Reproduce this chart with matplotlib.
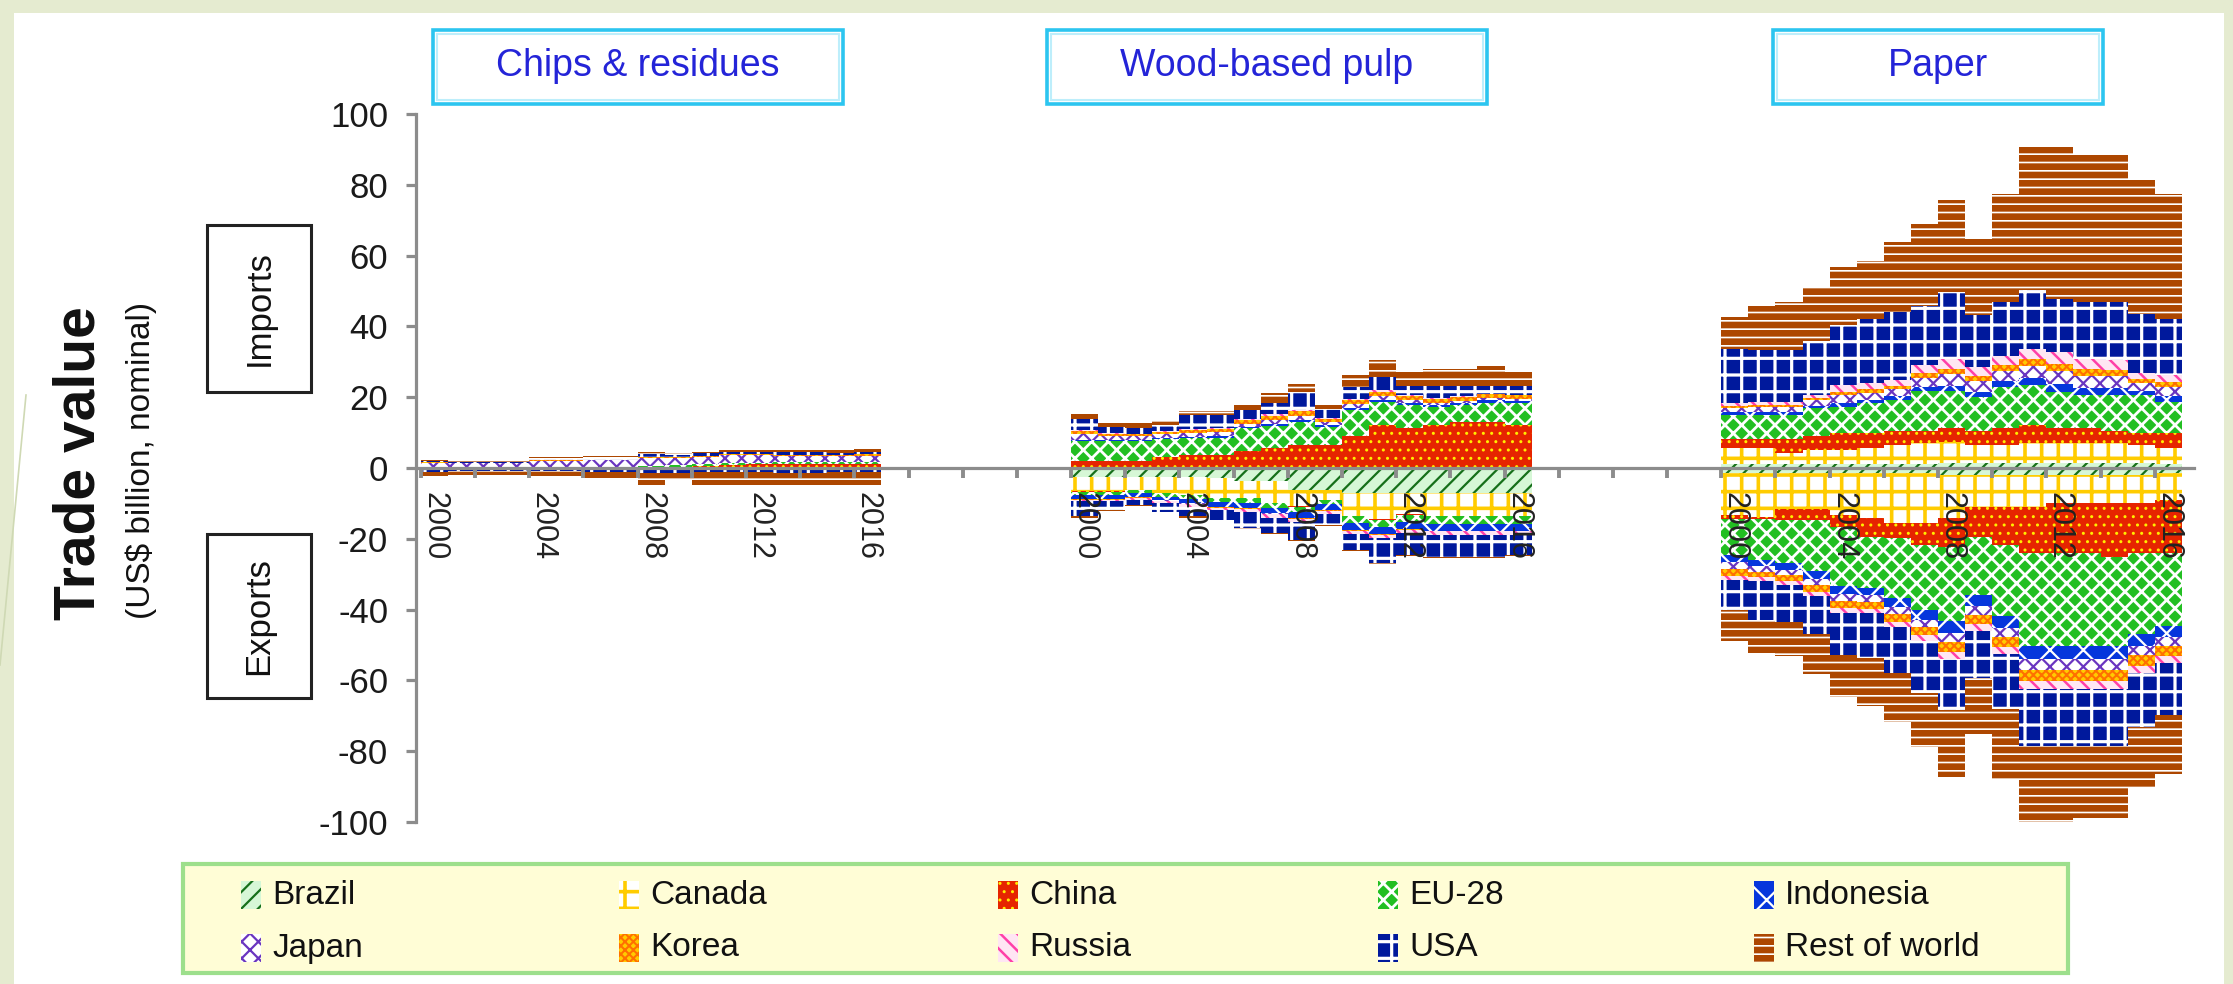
import numpy as np
import matplotlib
matplotlib.use("Agg")
import matplotlib.pyplot as plt
from matplotlib.patches import Rectangle
from matplotlib.lines import Line2D

plt.rcParams['font.family'] = ['Liberation Sans', 'DejaVu Sans']
plt.rcParams['axes.unicode_minus'] = False
plt.rcParams['hatch.linewidth'] = 2.0

years = list(range(2000, 2017))
countries = ["Brazil", "Canada", "China", "EU-28", "Indonesia",
             "Japan", "Korea", "Russia", "USA", "Rest of world"]
products = ["Chips & residues", "Wood-based pulp", "Paper"]

# ---- chips & residues (US$ billion) ----
chips_imp_brazil = [0, 0, 0, 0, 0, 0, 0, 0, 0, 0, 0, 0, 0, 0, 0, 0, 0]
chips_imp_canada = [0.1, 0.1, 0.1, 0.1, 0.1, 0.1, 0.1, 0.1, 0.1, 0.1, 0.1, 0.1, 0.1, 0.1, 0.1, 0.1, 0.1]
chips_imp_china = [0, 0, 0, 0, 0, 0, 0, 0, 0.2, 0.3, 0.5, 0.8, 0.9, 1.0, 1.0, 1.0, 1.1]
chips_imp_eu = [0.1, 0.1, 0.1, 0.1, 0.2, 0.2, 0.3, 0.3, 0.4, 0.4, 0.5, 0.5, 0.5, 0.5, 0.5, 0.5, 0.5]
chips_imp_indonesia = [0, 0, 0, 0, 0, 0, 0, 0, 0, 0, 0, 0, 0, 0, 0, 0, 0]
chips_imp_japan = [1.2, 1.2, 1.2, 1.2, 1.8, 1.8, 1.8, 1.8, 2.2, 2.0, 2.0, 2.2, 2.1, 1.9, 1.9, 1.8, 1.8]
chips_imp_korea = [0.3, 0.1, 0.1, 0.1, 0.1, 0.1, 0.1, 0.1, 0.3, 0.3, 0.4, 0.3, 0.3, 0.3, 0.3, 0.3, 0.5]
chips_imp_russia = [0, 0, 0, 0, 0, 0, 0, 0, 0, 0, 0, 0, 0, 0, 0, 0, 0]
chips_imp_usa = [0.2, 0.2, 0.2, 0.2, 0.7, 0.7, 0.7, 0.7, 0.8, 0.7, 0.6, 0.7, 0.6, 0.6, 0.6, 0.6, 0.6]
chips_imp_rest = [0.4, 0.4, 0.4, 0.4, 0.3, 0.3, 0.3, 0.3, 0.6, 0.4, 0.4, 0.5, 0.6, 0.6, 0.6, 0.7, 0.8]

chips_exp_brazil = [0, 0, 0, 0, 0.1, 0.2, 0.3, 0.3, 0.3, 0.3, 0.3, 0.3, 0.3, 0.3, 0.3, 0.3, 0.3]
chips_exp_canada = [0.1, 0.1, 0.1, 0.1, 0.1, 0.1, 0.1, 0.1, 0.1, 0.1, 0.1, 0.1, 0.1, 0.1, 0.1, 0.1, 0.1]
chips_exp_china = [0, 0, 0, 0, 0, 0, 0, 0, 0, 0, 0, 0, 0, 0, 0, 0, 0]
chips_exp_eu = [0.1, 0.1, 0.1, 0.1, 0.1, 0.1, 0.1, 0.1, 0.1, 0.1, 0.1, 0.1, 0.1, 0.1, 0.1, 0.1, 0.1]
chips_exp_indonesia = [0, 0, 0, 0, 0, 0, 0, 0, 0, 0, 0, 0, 0, 0, 0, 0, 0]
chips_exp_japan = [0, 0, 0, 0, 0, 0, 0, 0, 0, 0, 0, 0, 0, 0, 0, 0, 0]
chips_exp_korea = [0, 0, 0, 0, 0, 0, 0, 0, 0, 0, 0, 0, 0, 0, 0, 0, 0]
chips_exp_russia = [0.3, 0.3, 0.3, 0.3, 0.2, 0.2, 0.2, 0.2, 0.2, 0.2, 0.2, 0.2, 0.2, 0.2, 0.2, 0.2, 0.2]
chips_exp_usa = [0.5, 0.3, 0.3, 0.3, 0.3, 0.3, 0.3, 0.3, 0.8, 0.6, 0.5, 0.5, 0.5, 0.6, 0.6, 0.5, 0.5]
chips_exp_rest = [1.2, 1.3, 1.3, 1.3, 1.5, 1.5, 1.8, 1.8, 3.3, 2.0, 3.6, 3.7, 3.7, 3.6, 3.6, 3.7, 3.7]

# ---- wood-based pulp ----
pulp_imp_brazil = [0.1, 0.1, 0.1, 0.1, 0.1, 0.1, 0.1, 0.1, 0.1, 0.1, 0.1, 0.1, 0.1, 0.1, 0.1, 0.1, 0.1]
pulp_imp_canada = [0.3, 0.3, 0.3, 0.3, 0.3, 0.3, 0.3, 0.3, 0.3, 0.3, 0.3, 0.3, 0.3, 0.3, 0.3, 0.3, 0.3]
pulp_imp_china = [1.6, 1.6, 1.6, 2.6, 3.3, 3.3, 4.3, 5.2, 6.0, 6.0, 8.5, 11.8, 11.0, 11.8, 12.5, 12.7, 11.8]
pulp_imp_eu = [5.5, 5.5, 5.5, 5.2, 4.7, 4.9, 6.5, 6.4, 6.7, 5.3, 7.5, 6.5, 6.4, 5.1, 4.9, 5.4, 6.1]
pulp_imp_indonesia = [0.3, 0.3, 0.3, 0.3, 0.4, 0.4, 0.4, 0.4, 0.5, 0.4, 0.5, 0.6, 0.6, 0.6, 0.6, 0.6, 0.6]
pulp_imp_japan = [1.9, 1.2, 1.1, 1.1, 1.2, 1.2, 0.9, 1.2, 1.2, 0.9, 1.2, 1.1, 0.7, 0.6, 0.6, 0.6, 0.6]
pulp_imp_korea = [0.8, 0.7, 0.7, 0.7, 0.8, 0.9, 1.0, 1.2, 1.2, 0.8, 1.1, 1.2, 1.2, 1.1, 1.1, 1.1, 1.0]
pulp_imp_russia = [0.1, 0.1, 0.1, 0.1, 0.2, 0.2, 0.3, 0.4, 0.5, 0.3, 0.4, 0.4, 0.3, 0.2, 0.2, 0.2, 0.2]
pulp_imp_usa = [3.3, 1.9, 1.5, 1.8, 4.0, 3.7, 2.6, 3.1, 5.0, 2.6, 3.2, 3.6, 2.6, 3.4, 2.9, 2.2, 2.5]
pulp_imp_rest = [1.4, 1.0, 1.5, 1.5, 1.2, 1.2, 1.4, 2.9, 2.2, 1.1, 3.4, 4.9, 4.0, 4.7, 4.7, 5.6, 4.0]

pulp_exp_brazil = [2.6, 2.6, 2.6, 2.6, 2.6, 2.8, 3.7, 3.7, 6.1, 6.1, 7.0, 7.0, 7.0, 7.0, 7.0, 7.0, 7.0]
pulp_exp_canada = [4.0, 4.0, 3.5, 4.4, 4.9, 5.6, 4.7, 6.1, 4.7, 2.8, 6.6, 7.5, 6.1, 6.6, 6.6, 6.6, 6.6]
pulp_exp_china = [0.1, 0.1, 0.1, 0.1, 0.1, 0.1, 0.1, 0.1, 0.1, 0.1, 0.1, 0.1, 0.1, 0.1, 0.1, 0.1, 0.1]
pulp_exp_eu = [1.0, 1.0, 1.0, 1.0, 1.2, 1.2, 1.3, 1.4, 1.5, 1.3, 1.8, 2.0, 2.0, 2.0, 2.0, 2.0, 2.0]
pulp_exp_indonesia = [1.0, 1.0, 1.0, 1.0, 1.2, 1.3, 1.5, 1.5, 1.7, 1.6, 2.0, 2.0, 2.0, 2.0, 2.0, 2.0, 2.0]
pulp_exp_japan = [0.1, 0.1, 0.1, 0.1, 0.1, 0.1, 0.1, 0.1, 0.1, 0.1, 0.1, 0.1, 0.1, 0.1, 0.1, 0.1, 0.1]
pulp_exp_korea = [0.1, 0.1, 0.1, 0.1, 0.1, 0.1, 0.1, 0.1, 0.1, 0.1, 0.1, 0.1, 0.1, 0.1, 0.1, 0.1, 0.1]
pulp_exp_russia = [0.5, 0.5, 0.5, 0.6, 0.7, 0.8, 0.9, 1.0, 1.0, 0.8, 1.0, 1.1, 1.0, 1.0, 1.0, 1.0, 1.0]
pulp_exp_usa = [4.3, 2.5, 1.6, 2.4, 2.8, 2.7, 4.6, 4.4, 5.0, 3.2, 4.4, 7.0, 6.1, 6.1, 6.1, 6.1, 5.6]
pulp_exp_rest = [0.3, 0.3, 0.3, 0.3, 0.3, 0.3, 0.3, 0.3, 0.3, 0.3, 0.3, 0.3, 0.3, 0.3, 0.3, 0.3, 0.3]

# ---- paper ----
paper_imp_brazil = [1.0, 1.0, 1.0, 1.0, 1.0, 1.0, 1.0, 1.0, 1.5, 1.5, 1.5, 1.5, 1.5, 1.5, 1.5, 1.5, 1.0]
paper_imp_canada = [4.6, 4.6, 3.2, 4.0, 4.0, 4.6, 5.6, 6.0, 5.9, 5.1, 5.1, 5.5, 5.5, 5.5, 5.5, 5.1, 4.6]
paper_imp_china = [2.5, 2.5, 3.9, 3.9, 4.8, 4.2, 3.9, 3.5, 4.0, 3.9, 4.8, 5.2, 4.4, 4.4, 3.5, 3.2, 4.2]
paper_imp_eu = [6.9, 6.9, 6.9, 8.0, 7.5, 8.5, 8.7, 11.2, 10.3, 9.6, 11.5, 11.2, 10.1, 9.2, 10.1, 10.8, 8.9]
paper_imp_indonesia = [0.7, 0.7, 0.7, 0.7, 1.0, 1.0, 1.0, 1.3, 1.6, 1.5, 1.6, 2.0, 2.2, 2.0, 1.9, 1.2, 1.5]
paper_imp_japan = [1.3, 1.5, 1.5, 1.5, 2.2, 2.0, 2.0, 2.5, 3.2, 3.0, 3.0, 3.5, 3.8, 3.5, 3.4, 2.2, 2.6]
paper_imp_korea = [0.6, 0.7, 0.7, 0.7, 1.1, 1.0, 1.0, 1.3, 1.6, 1.5, 1.5, 1.8, 2.0, 1.8, 1.7, 1.1, 1.4]
paper_imp_russia = [0.7, 0.8, 0.8, 0.8, 1.8, 1.6, 1.6, 2.2, 2.8, 2.5, 2.6, 3.0, 3.3, 3.0, 2.8, 1.6, 2.0]
paper_imp_usa = [15.4, 14.5, 14.5, 15.4, 17.0, 18.2, 19.2, 16.9, 18.7, 14.5, 15.4, 16.7, 15.0, 15.9, 16.4, 16.8, 15.9]
paper_imp_rest = [8.9, 12.7, 13.6, 15.0, 16.5, 16.4, 19.9, 23.1, 26.1, 21.7, 30.4, 40.4, 43.0, 41.5, 41.5, 38.0, 35.3]

paper_exp_brazil = [1.5, 1.5, 1.5, 1.5, 1.5, 1.5, 1.5, 1.5, 2.0, 2.0, 2.0, 2.0, 2.0, 2.0, 2.0, 2.0, 1.5]
paper_exp_canada = [11.8, 12.3, 10.2, 10.2, 11.8, 12.7, 14.1, 14.1, 12.2, 9.0, 9.0, 9.0, 8.0, 8.0, 8.0, 8.0, 7.6]
paper_exp_china = [1.2, 0.7, 3.0, 3.0, 3.3, 5.2, 4.2, 6.1, 8.0, 8.4, 10.7, 13.1, 14.1, 14.1, 15.0, 14.1, 15.0]
paper_exp_eu = [10.0, 11.5, 12.2, 14.5, 16.8, 14.5, 16.9, 18.5, 21.1, 16.6, 20.2, 26.2, 26.2, 26.2, 25.3, 22.9, 20.4]
paper_exp_indonesia = [2.1, 1.8, 1.8, 2.1, 2.3, 2.1, 2.5, 2.6, 3.2, 3.0, 3.2, 3.7, 3.7, 3.7, 3.7, 3.2, 3.2]
paper_exp_japan = [2.0, 1.5, 1.5, 1.8, 1.9, 1.8, 2.0, 2.2, 2.7, 2.5, 2.7, 3.0, 3.0, 3.0, 3.0, 2.7, 2.6]
paper_exp_korea = [1.8, 1.6, 1.6, 1.8, 2.0, 1.9, 2.2, 2.3, 2.9, 2.7, 2.9, 3.3, 3.3, 3.3, 3.3, 2.9, 2.8]
paper_exp_russia = [1.2, 1.1, 1.2, 1.3, 1.3, 1.2, 1.5, 1.6, 1.9, 1.9, 1.9, 2.2, 2.2, 2.2, 2.2, 2.0, 1.9]
paper_exp_usa = [8.6, 10.8, 10.5, 10.8, 12.0, 12.7, 12.9, 14.8, 14.5, 13.1, 15.5, 15.9, 15.9, 15.9, 15.9, 15.4, 14.8]
paper_exp_rest = [8.7, 9.4, 9.6, 11.2, 11.9, 13.5, 14.0, 15.1, 18.8, 15.9, 20.1, 21.5, 21.5, 20.6, 20.6, 17.3, 16.5]

chips_imp = [chips_imp_brazil, chips_imp_canada, chips_imp_china, chips_imp_eu, chips_imp_indonesia,
             chips_imp_japan, chips_imp_korea, chips_imp_russia, chips_imp_usa, chips_imp_rest]
chips_exp = [chips_exp_brazil, chips_exp_canada, chips_exp_china, chips_exp_eu, chips_exp_indonesia,
             chips_exp_japan, chips_exp_korea, chips_exp_russia, chips_exp_usa, chips_exp_rest]
pulp_imp = [pulp_imp_brazil, pulp_imp_canada, pulp_imp_china, pulp_imp_eu, pulp_imp_indonesia,
            pulp_imp_japan, pulp_imp_korea, pulp_imp_russia, pulp_imp_usa, pulp_imp_rest]
pulp_exp = [pulp_exp_brazil, pulp_exp_canada, pulp_exp_china, pulp_exp_eu, pulp_exp_indonesia,
            pulp_exp_japan, pulp_exp_korea, pulp_exp_russia, pulp_exp_usa, pulp_exp_rest]
paper_imp = [paper_imp_brazil, paper_imp_canada, paper_imp_china, paper_imp_eu, paper_imp_indonesia,
             paper_imp_japan, paper_imp_korea, paper_imp_russia, paper_imp_usa, paper_imp_rest]
paper_exp = [paper_exp_brazil, paper_exp_canada, paper_exp_china, paper_exp_eu, paper_exp_indonesia,
             paper_exp_japan, paper_exp_korea, paper_exp_russia, paper_exp_usa, paper_exp_rest]

# facecolour, hatch colour, hatch, hatch line width per country
styles = [
    ('#d6f7d6', '#16701a', '//', 1.6),      # Brazil
    ('#ffffff', '#ffcc00', '+', 2.6),       # Canada
    ('#e62400', '#ffee00', '..', 1.0),      # China
    ('#22bf22', '#ffffff', 'xx', 2.0),      # EU-28
    ('#0636dc', '#ffffff', 'x', 1.6),       # Indonesia
    ('#ffffff', '#6a35c0', 'xx', 1.6),      # Japan
    ('#ffcc00', '#ff7000', 'xxxx', 1.5),    # Korea
    ('#ffe6f3', '#ff40a8', '\\\\', 1.8),    # Russia
    ('#00199c', '#ffffff', '+', 2.3),       # USA
    ('#ad4700', '#ffffff', '--', 1.2),      # Rest of world
]

W, H = 2233, 984


def fx(px):
    return px / W


def fy(py):
    return 1 - py / H


def set_hatch_lw(artist, lw):
    if hasattr(artist, 'set_hatch_linewidth'):
        artist.set_hatch_linewidth(lw)


fig = plt.figure(figsize=(W / 100, H / 100), dpi=100, facecolor='#e5ebd0')
# white slide area
fig.patches.append(Rectangle((fx(14), 0), fx(2224) - fx(14), fy(13), transform=fig.transFigure,
                             facecolor='white', edgecolor='none', zorder=-2))
fig.lines.append(Line2D([fx(0), fx(26)], [fy(665), fy(395)], transform=fig.transFigure,
                        color='#cfd9b4', lw=1.2, zorder=-1))

ax = fig.add_axes([fx(416), fy(822), (2194 - 416) / W, (822 - 114) / H])
ax.patch.set_alpha(0)

offsets = [0, 24, 48]
n = len(years)


def draw_stack(xpos, layers, sign):
    base = np.zeros(n)
    for vals, (fc, hc, hatch, hlw) in zip(layers, styles):
        v = sign * np.asarray(vals, dtype=float)
        with plt.rc_context({'hatch.linewidth': hlw}):
            bars = ax.bar(xpos, v, bottom=base, width=1.0, color=fc, edgecolor=hc, hatch=hatch,
                          linewidth=0, antialiased=False, zorder=1)
        for b in bars:
            set_hatch_lw(b, hlw)
        base = base + v


for off, imp, exp in zip(offsets, [chips_imp, pulp_imp, paper_imp], [chips_exp, pulp_exp, paper_exp]):
    xpos = np.arange(n) + off
    draw_stack(xpos, imp, 1)
    draw_stack(xpos, exp, -1)

ax.set_xlim(-0.68, 64.95)
ax.set_ylim(-100, 100)

axis_grey = '#8c8c8c'
for s in ['top', 'right']:
    ax.spines[s].set_visible(False)
ax.spines['left'].set_color(axis_grey)
ax.spines['left'].set_linewidth(2.3)
ax.spines['bottom'].set_position(('data', 0))
ax.spines['bottom'].set_color(axis_grey)
ax.spines['bottom'].set_linewidth(2.3)

ax.set_yticks(np.arange(-100, 101, 20))
ax.tick_params(axis='y', length=7, width=2.3, color=axis_grey, labelsize=25, pad=13,
               labelcolor='#1a1a1a')

label_years = [2000, 2004, 2008, 2012, 2016]
xt, xl = [], []
for off in offsets:
    for yr in label_years:
        xt.append(off + years.index(yr))
        xl.append(str(yr))
ax.set_xticks(xt)
ax.set_xticklabels(xl, rotation=270)
ax.set_xticks(np.arange(-0.5, 64, 2), minor=True)
ax.tick_params(axis='x', which='major', length=0, labelsize=22, pad=17, labelcolor='#222222')
ax.tick_params(axis='x', which='minor', length=7, width=2.8, color=axis_grey)

# product headers
title_boxes = [(433, 843), (1047, 1487), (1773, 2103)]
for (x0, x1), name in zip(title_boxes, products):
    fig.patches.append(Rectangle((fx(x0), fy(104)), fx(x1) - fx(x0), fy(30) - fy(104),
                                 transform=fig.transFigure, facecolor='white',
                                 edgecolor='#2cc5f0', lw=2.6, zorder=3))
    fig.patches.append(Rectangle((fx(x0 + 4), fy(100)), fx(x1 - 4) - fx(x0 + 4), fy(34) - fy(100),
                                 transform=fig.transFigure, facecolor='none',
                                 edgecolor='#bdeefb', lw=1.5, zorder=3))
    fig.text(fx((x0 + x1) / 2), fy(66), name, ha='center', va='center', fontsize=27,
             color='#2424d8', zorder=4)

# y-axis title and Imports / Exports boxes
fig.text(fx(80), fy(463), 'Trade value', rotation=90, ha='center', va='center',
         fontsize=41, fontweight='bold', color='#111111')
fig.text(fx(141), fy(460), '(US$ billion, nominal)', rotation=90, ha='center', va='center',
         fontsize=24, color='#111111')
for (y0, y1), word in zip([(225, 392), (534, 698)], ['Imports', 'Exports']):
    fig.patches.append(Rectangle((fx(207), fy(y1)), fx(311) - fx(207), fy(y0) - fy(y1),
                                 transform=fig.transFigure, facecolor='white',
                                 edgecolor='#222222', lw=2.2, zorder=3))
    fig.text(fx(259), fy((y0 + y1) / 2), word, rotation=90, ha='center', va='center',
             fontsize=25, color='#111111', zorder=4)

# legend
fig.patches.append(Rectangle((fx(183), fy(973)), fx(2068) - fx(183), fy(864) - fy(973),
                             transform=fig.transFigure, facecolor='#fffdd6',
                             edgecolor='#9ddf8c', lw=3, zorder=3))
marker_x = [241, 619, 998, 1378, 1754]
row_y = [895, 948]
for i, (name, (fc, hc, hatch, hlw)) in enumerate(zip(countries, styles)):
    r, c = divmod(i, 5)
    mx, my = marker_x[c], row_y[r]
    with plt.rc_context({'hatch.linewidth': hlw}):
        mk = Rectangle((fx(mx), fy(my + 14)), fx(20), 28 / H, transform=fig.transFigure,
                       facecolor=fc, edgecolor=hc, hatch=hatch, lw=0, zorder=4)
    set_hatch_lw(mk, hlw)
    fig.patches.append(mk)
    fig.text(fx(mx + 31), fy(my), name, ha='left', va='center', fontsize=24,
             color='#111111', zorder=4)

fig.savefig('out.png', dpi=100, facecolor=fig.get_facecolor())
